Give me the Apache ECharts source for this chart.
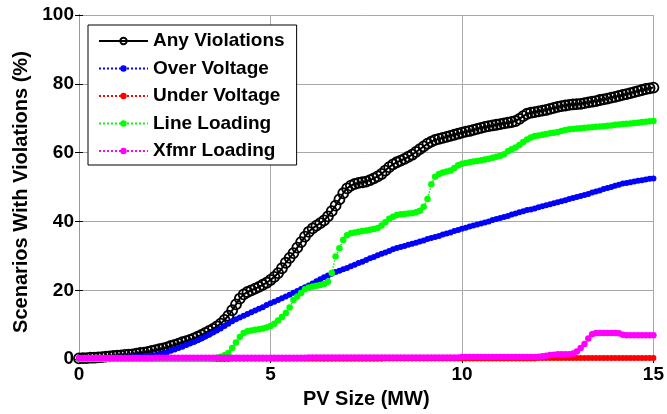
<!DOCTYPE html>
<html>
<head>
<meta charset="utf-8">
<script src="https://cdn.jsdelivr.net/npm/echarts@6/dist/echarts.min.js"></script>
<style>html,body{margin:0;padding:0;background:#fff;}#chart{width:667px;height:414px;}</style>
</head>
<body>
<div id="chart"></div>
<script>
// PV size samples (MW), 0 to 15 in 0.1 MW steps
const pvSize = Array.from({length: 151}, (_, i) => Math.round(i) / 10);

const xTicks = [0, 5, 10, 15];
const yTicks = [0, 20, 40, 60, 80, 100];

const seriesNames = ['Any Violations', 'Over Voltage', 'Under Voltage', 'Line Loading', 'Xfmr Loading'];

const anyViolations = [
  0.2,0.3,0.3,0.4,0.4,0.5,0.6,0.7,0.8,0.9,
  1.0,1.1,1.2,1.3,1.4,1.6,1.8,1.9,2.1,2.4,
  2.6,2.9,3.1,3.4,3.8,4.1,4.5,4.9,5.2,5.6,
  6.0,6.5,7.0,7.6,8.2,8.8,9.5,10.3,11.4,12.6,
  14.2,15.9,17.6,18.8,19.5,20.0,20.5,21.0,21.6,22.2,
  23.0,23.9,25.0,26.4,28.0,29.4,30.8,32.4,34.0,35.6,
  37.0,38.0,38.8,39.5,40.3,41.5,43.0,44.6,46.4,48.2,
  49.6,50.4,50.9,51.2,51.4,51.6,52.0,52.5,53.1,53.8,
  54.8,55.8,56.6,57.2,57.7,58.2,58.8,59.4,60.2,61.0,
  61.8,62.6,63.2,63.7,64.0,64.3,64.6,64.9,65.2,65.5,
  65.8,66.1,66.3,66.6,66.9,67.2,67.5,67.7,67.9,68.1,
  68.3,68.5,68.7,68.9,69.2,69.8,70.6,71.3,71.6,71.8,
  72.0,72.2,72.4,72.7,73.0,73.3,73.5,73.7,73.9,74.0,
  74.1,74.2,74.4,74.6,74.8,75.0,75.3,75.5,75.7,76.0,
  76.2,76.5,76.8,77.0,77.3,77.6,77.9,78.2,78.5,78.7,
  78.9
];

const overVoltage = [
  0.1,0.1,0.2,0.2,0.2,0.3,0.3,0.3,0.4,0.4,
  0.4,0.5,0.5,0.5,0.6,0.6,0.7,0.8,0.9,1.0,
  1.1,1.4,1.7,2.0,2.4,2.8,3.2,3.6,4.1,4.5,
  5.0,5.5,6.0,6.6,7.1,7.7,8.3,8.9,9.6,10.3,
  11.0,11.6,12.1,12.6,13.1,13.6,14.1,14.6,15.1,15.7,
  16.2,16.7,17.2,17.7,18.2,18.7,19.3,19.8,20.4,20.9,
  21.4,22.0,22.6,23.2,23.8,24.3,24.8,25.3,25.7,26.1,
  26.5,27.0,27.4,27.9,28.3,28.8,29.3,29.7,30.2,30.6,
  31.0,31.4,31.9,32.3,32.6,32.9,33.2,33.5,33.8,34.2,
  34.5,34.9,35.2,35.5,35.8,36.2,36.5,36.8,37.2,37.5,
  37.9,38.2,38.5,38.8,39.1,39.4,39.7,40.0,40.4,40.7,
  41.0,41.3,41.6,42.0,42.3,42.7,43.0,43.3,43.5,43.8,
  44.1,44.4,44.7,45.0,45.3,45.6,45.9,46.2,46.5,46.8,
  47.1,47.4,47.7,48.0,48.4,48.7,49.0,49.4,49.7,50.0,
  50.4,50.7,51.0,51.2,51.4,51.6,51.8,52.0,52.2,52.4,
  52.5
];

const underVoltage = [
  0,0,0,0,0,0,0,0,0,0,
  0,0,0,0,0,0,0,0,0,0,
  0,0,0,0,0,0,0,0,0,0,
  0,0,0,0,0,0,0,0,0,0,
  0.1,0.1,0.1,0.1,0.1,0.1,0.1,0.1,0.1,0.1,
  0.1,0.1,0.1,0.1,0.1,0.1,0.1,0.1,0.1,0.1,
  0.1,0.1,0.1,0.1,0.1,0.1,0.1,0.1,0.1,0.1,
  0.1,0.1,0.1,0.1,0.1,0.1,0.1,0.1,0.1,0.1,
  0.2,0.2,0.2,0.2,0.2,0.2,0.2,0.2,0.2,0.2,
  0.2,0.2,0.2,0.2,0.2,0.2,0.2,0.2,0.2,0.2,
  0.2,0.2,0.2,0.2,0.2,0.2,0.2,0.2,0.2,0.2,
  0.2,0.2,0.2,0.2,0.2,0.2,0.2,0.2,0.2,0.2,
  0.3,0.3,0.3,0.3,0.3,0.3,0.3,0.3,0.3,0.3,
  0.3,0.3,0.3,0.3,0.3,0.3,0.3,0.3,0.3,0.3,
  0.3,0.3,0.3,0.3,0.3,0.3,0.3,0.3,0.3,0.3,
  0.3
];

const lineLoading = [
  0,0,0,0,0,0,0,0,0,0,
  0,0,0,0,0,0,0,0,0,0,
  0,0,0,0,0,0,0,0,0,0,
  0,0,0,0,0.1,0.2,0.4,0.7,1.1,1.8,
  3.2,4.8,6.4,7.6,8.1,8.3,8.5,8.7,8.9,9.2,
  9.6,10.3,11.2,12.2,13.4,15.0,17.2,18.2,19.2,20.3,
  20.8,21.1,21.3,21.5,21.8,22.5,25.0,29.8,32.2,34.6,
  36.0,36.6,36.8,37.0,37.2,37.4,37.6,37.8,38.1,38.8,
  39.8,40.8,41.4,41.9,42.1,42.2,42.3,42.4,42.7,43.1,
  44.3,46.5,50.8,53.0,53.8,54.2,54.5,54.8,55.5,56.3,
  56.8,57.0,57.2,57.4,57.6,57.8,58.0,58.2,58.5,58.8,
  59.1,59.5,60.4,61.0,61.5,62.2,63.1,63.8,64.4,64.8,
  65.0,65.2,65.4,65.6,65.8,66.0,66.3,66.6,66.8,66.9,
  67.0,67.1,67.2,67.3,67.4,67.5,67.6,67.7,67.8,67.9,
  68.1,68.2,68.3,68.4,68.5,68.6,68.7,68.9,69.0,69.1,
  69.2
];

const xfmrLoading = [
  0.3,0.3,0.3,0.3,0.3,0.3,0.3,0.3,0.3,0.3,
  0.3,0.3,0.3,0.3,0.3,0.3,0.3,0.3,0.3,0.3,
  0.4,0.4,0.4,0.4,0.4,0.4,0.4,0.4,0.4,0.4,
  0.4,0.4,0.4,0.4,0.4,0.4,0.4,0.4,0.4,0.4,
  0.4,0.4,0.4,0.4,0.4,0.4,0.4,0.4,0.4,0.4,
  0.4,0.4,0.4,0.4,0.4,0.4,0.4,0.4,0.4,0.4,
  0.5,0.5,0.5,0.5,0.5,0.5,0.5,0.5,0.5,0.5,
  0.5,0.5,0.5,0.5,0.5,0.5,0.5,0.5,0.5,0.5,
  0.5,0.5,0.5,0.5,0.5,0.5,0.5,0.5,0.5,0.5,
  0.5,0.5,0.5,0.5,0.5,0.5,0.5,0.5,0.5,0.5,
  0.6,0.6,0.6,0.6,0.6,0.6,0.6,0.6,0.6,0.6,
  0.6,0.6,0.6,0.6,0.6,0.6,0.6,0.6,0.6,0.6,
  0.7,0.8,1.0,1.2,1.3,1.4,1.4,1.4,1.4,1.6,
  2.2,3.2,4.4,6.0,7.2,7.6,7.6,7.6,7.6,7.6,
  7.6,7.5,7.1,6.9,6.9,6.9,6.9,6.9,6.9,6.9,
  6.9
];

const FONT = '"Liberation Sans", Arial, sans-serif';

function pairs(values) {
  return pvSize.map((x, i) => [x, values[i]]);
}

const chart = echarts.init(document.getElementById('chart'));

const labelStyle = { fontSize: 19, fontWeight: 'bold', color: '#000', fontFamily: FONT };

chart.setOption({
  animation: false,
  backgroundColor: '#fff',
  grid: { left: 79, right: 10, top: 15, bottom: 49 },
  legend: {
    orient: 'vertical',
    left: 88,
    top: 25,
    itemWidth: 49,
    itemHeight: 8,
    itemGap: 7.5,
    padding: [6, 12, 4, 10],
    borderColor: '#000',
    borderWidth: 1,
    borderRadius: 0,
    backgroundColor: '#fff',
    textStyle: { fontSize: 19, fontWeight: 'bold', color: '#000', fontFamily: FONT, lineHeight: 20 },
    data: seriesNames
  },
  xAxis: [{
    type: 'value', min: xTicks[0], max: xTicks[xTicks.length - 1], interval: 5,
    position: 'bottom',
    name: 'PV Size (MW)', nameLocation: 'middle', nameGap: 26,
    nameTextStyle: { fontSize: 20, fontWeight: 'bold', color: '#000', fontFamily: FONT },
    axisLine: { lineStyle: { color: '#000', width: 1 } },
    axisTick: { inside: true, length: 4, lineStyle: { color: '#000' } },
    axisLabel: Object.assign({ margin: 6 }, labelStyle),
    splitLine: { show: true, lineStyle: { color: '#a8a8a8', width: 1 } }
  }, {
    type: 'value', min: xTicks[0], max: xTicks[xTicks.length - 1], interval: 5,
    position: 'top',
    axisLine: { lineStyle: { color: '#999', width: 1 } },
    axisTick: { inside: true, length: 4, lineStyle: { color: '#000' } },
    axisLabel: { show: false },
    splitLine: { show: false }
  }],
  yAxis: [{
    type: 'value', min: yTicks[0], max: yTicks[yTicks.length - 1], interval: 20,
    position: 'left',
    name: 'Scenarios With Violations (%)', nameLocation: 'middle', nameGap: 48,
    nameTextStyle: { fontSize: 20, fontWeight: 'bold', color: '#000', fontFamily: FONT, padding: [0, 10, 0, 0] },
    axisLine: { show: true, lineStyle: { color: '#000', width: 1 } },
    axisTick: { show: true, inside: true, length: 4, lineStyle: { color: '#000' } },
    axisLabel: Object.assign({ margin: 5 }, labelStyle),
    splitLine: { show: true, lineStyle: { color: '#a8a8a8', width: 1 } }
  }, {
    type: 'value', min: yTicks[0], max: yTicks[yTicks.length - 1], interval: 20,
    position: 'right',
    axisLine: { show: true, lineStyle: { color: '#999', width: 1 } },
    axisTick: { show: true, inside: true, length: 4, lineStyle: { color: '#000' } },
    axisLabel: { show: false },
    splitLine: { show: false }
  }],
  series: [
    {
      name: seriesNames[0], type: 'line', data: pairs(anyViolations),
      symbol: 'circle', symbolSize: 10, showAllSymbol: true,
      lineStyle: { color: '#000', width: 2, type: 'solid' },
      itemStyle: { color: 'rgba(255,255,255,0)', borderColor: '#000', borderWidth: 1.8 },
      emphasis: { disabled: true }
    },
    {
      name: seriesNames[1], type: 'line', data: pairs(overVoltage),
      symbol: 'circle', symbolSize: 6, showAllSymbol: true,
      lineStyle: { color: '#0000ff', width: 1.5, type: 'dotted' },
      itemStyle: { color: '#0000ff' },
      emphasis: { disabled: true }
    },
    {
      name: seriesNames[2], type: 'line', data: pairs(underVoltage),
      symbol: 'circle', symbolSize: 6, showAllSymbol: true,
      lineStyle: { color: '#ff0000', width: 1.5, type: 'dotted' },
      itemStyle: { color: '#ff0000' },
      emphasis: { disabled: true }
    },
    {
      name: seriesNames[3], type: 'line', data: pairs(lineLoading),
      symbol: 'circle', symbolSize: 6.5, showAllSymbol: true,
      lineStyle: { color: '#00ff00', width: 1.5, type: 'dotted' },
      itemStyle: { color: '#00ff00' },
      emphasis: { disabled: true }
    },
    {
      name: seriesNames[4], type: 'line', data: pairs(xfmrLoading),
      symbol: 'circle', symbolSize: 6.5, showAllSymbol: true,
      lineStyle: { color: '#ff00ff', width: 1.5, type: 'dotted' },
      itemStyle: { color: '#ff00ff' },
      emphasis: { disabled: true }
    }
  ]
});
</script>
</body>
</html>
